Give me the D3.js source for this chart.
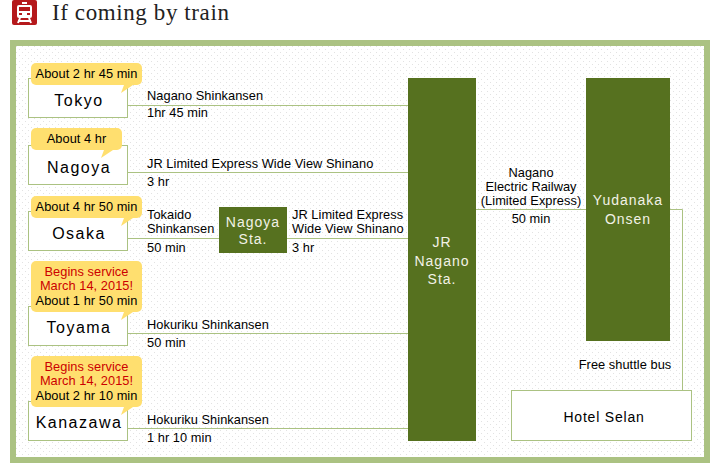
<!DOCTYPE html>
<html>
<head>
<meta charset="utf-8">
<script src="https://cdn.jsdelivr.net/npm/d3@7"></script>
<style>
html, body { margin: 0; padding: 0; background: #fff; }
svg { display: block; }
text { font-family: "Liberation Sans", Arial, sans-serif; }
</style>
</head>
<body>
<svg id="chart" width="720" height="463"></svg>
<script>
const origins = ['Tokyo', 'Nagoya', 'Osaka', 'Toyama', 'Kanazawa'];
const totalTimes = ['About 2 hr 45 min', 'About 4 hr', 'About 4 hr 50 min', 'About 1 hr 50 min', 'About 2 hr 10 min'];
const routes = ['Nagano Shinkansen', 'JR Limited Express Wide View Shinano', null, 'Hokuriku Shinkansen', 'Hokuriku Shinkansen'];
const durations = ['1hr 45 min', '3 hr', null, '50 min', '1 hr 10 min'];
const newService = ['Begins service', 'March 14, 2015!'];
const newServiceOrigins = ['Toyama', 'Kanazawa'];

const GREEN = '#56711f';
const LINE = '#abc282';
const BUBBLE = '#ffdf6f';
const RED = '#cc0000';

const svg = d3.select('#chart');

// row position of each origin, rows are not evenly spaced in the original
const rowY = d3.scaleOrdinal().domain(origins).range([105, 172, 238, 333, 428]);
// the speech bubbles do not sit at quite the same height above each row
const bubbleBottom = d3.scaleOrdinal().domain(origins).range([85, 150, 218, 312, 407]);

const defs = svg.append('defs');
const dots = defs.append('pattern')
    .attr('id', 'dots')
    .attr('width', 6)
    .attr('height', 6)
    .attr('patternUnits', 'userSpaceOnUse');
dots.append('rect').attr('width', 6).attr('height', 6).attr('fill', '#fff');
dots.append('rect').attr('x', 1).attr('y', 1).attr('width', 1).attr('height', 1).attr('fill', '#e2e2e2');
dots.append('rect').attr('x', 4).attr('y', 4).attr('width', 1).attr('height', 1).attr('fill', '#e2e2e2');

function label(g, str, x, y, opts = {}) {
    return g.append('text')
        .attr('x', x)
        .attr('y', y)
        .attr('text-anchor', opts.anchor || 'start')
        .attr('font-size', opts.size || 12.8)
        .attr('letter-spacing', opts.spacing ?? 0.05)
        .attr('fill', opts.fill || '#000')
        .text(str);
}

function drawHeader() {
    const icon = svg.append('g');
    icon.append('rect').attr('x', 12).attr('y', 0).attr('width', 25).attr('height', 25).attr('rx', 2).attr('fill', '#b5191c');
    icon.append('path')
        .attr('fill', '#fff')
        .attr('d', 'M22 2h5v2h-5z M19 5h11a2 2 0 0 1 2 2v9a2 2 0 0 1-2 2h-11a2 2 0 0 1-2-2v-9a2 2 0 0 1 2-2z');
    icon.append('rect').attr('x', 19).attr('y', 7).attr('width', 11).attr('height', 4).attr('fill', '#b5191c');
    icon.append('path')
        .attr('stroke', '#fff')
        .attr('stroke-width', 2)
        .attr('d', 'M20 18l-2 5 M29 18l2 5 M18 21h13');
    icon.append('path').attr('fill', '#b5191c').attr('d', 'M19 13h3v2h-3z M27 13h3v2h-3z');

    svg.append('text')
        .attr('x', 52)
        .attr('y', 20)
        .attr('font-size', 23)
        .attr('letter-spacing', 0.6)
        .attr('fill', '#222')
        .style('font-family', '"Liberation Serif", serif')
        .text('If coming by train');
}

function drawFrame() {
    svg.append('rect')
        .attr('x', 13)
        .attr('y', 43)
        .attr('width', 694)
        .attr('height', 417)
        .attr('fill', 'url(#dots)')
        .attr('stroke', LINE)
        .attr('stroke-width', 6);
}

function drawConnectors() {
    const g = svg.append('g').attr('fill', 'none').attr('stroke', LINE).attr('stroke-width', 1);
    origins.forEach((o) => {
        const y = rowY(o) + 0.5;
        g.append('path').attr('d', d3.line()([[128, y], [408, y]]));
    });
    g.append('path').attr('d', d3.line()([[476, 209.5], [586, 209.5]]));
    g.append('path').attr('d', d3.line()([[670, 209.5], [682.5, 209.5], [682.5, 390]]));
}

function drawOrigins() {
    const g = svg.append('g');
    origins.forEach((o, i) => {
        const y = rowY(o);
        g.append('rect')
            .attr('x', 28.5)
            .attr('y', y - 27 + 0.5)
            .attr('width', 99)
            .attr('height', 39)
            .attr('fill', '#fff')
            .attr('stroke', LINE);
        label(g, o, 79, i > 2 ? y : y + 1, { anchor: 'middle', size: 16, spacing: 1.5 });

        const extra = newServiceOrigins.includes(o);
        const width = i === 1 ? 91 : 111;
        const bottom = bubbleBottom(o);
        const top = bottom - (extra ? 51 : 22);
        g.append('rect')
            .attr('x', 31)
            .attr('y', top)
            .attr('width', width)
            .attr('height', bottom - top)
            .attr('rx', 5)
            .attr('fill', BUBBLE);
        const right = 31 + width;
        g.append('path')
            .attr('fill', BUBBLE)
            .attr('d', `M${right - 18} ${bottom}L${right - 21} ${bottom + 8}L${right - 9} ${bottom}Z`);
        const mid = 31 + width / 2;
        if (extra) {
            newService.forEach((s, k) => {
                label(g, s, mid, top + 15 + k * 14, { anchor: 'middle', fill: RED });
            });
        }
        label(g, totalTimes[i], mid, bottom - 7.5, { anchor: 'middle' });
    });
}

function drawRoutes() {
    const g = svg.append('g');
    origins.forEach((o, i) => {
        if (!routes[i]) return;
        const y = rowY(o);
        // the Tokyo row sits a little tighter around its line
        label(g, routes[i], 147, i === 0 ? y - 5 : y - 4);
        label(g, durations[i], 147, i === 0 ? y + 12 : y + 14);
    });
    const osaka = rowY('Osaka');
    label(g, 'Tokaido', 147, osaka - 19);
    label(g, 'Shinkansen', 147, osaka - 5);
    label(g, '50 min', 147, osaka + 14);
    label(g, 'JR Limited Express', 292, osaka - 19);
    label(g, 'Wide View Shinano', 292, osaka - 5);
    label(g, '3 hr', 292, osaka + 14);

    label(g, 'Nagano', 531, 177, { anchor: 'middle' });
    label(g, 'Electric Railway', 531, 191, { anchor: 'middle' });
    label(g, '(Limited Express)', 531, 205, { anchor: 'middle' });
    label(g, '50 min', 531, 223, { anchor: 'middle' });
    label(g, 'Free shuttle bus', 625, 369, { anchor: 'middle' });
}

function drawStations() {
    const stations = [
        { lines: ['Nagoya', 'Sta.'], x: 219, y: 207, w: 68, h: 46, base: 227, step: 17 },
        { lines: ['JR', 'Nagano', 'Sta.'], x: 408, y: 78, w: 68, h: 363, base: 247, step: 18.5 },
        { lines: ['Yudanaka', 'Onsen'], x: 586, y: 78, w: 84, h: 263, base: 205, step: 19 }
    ];
    const g = svg.append('g');
    stations.forEach((s) => {
        g.append('rect').attr('x', s.x).attr('y', s.y).attr('width', s.w).attr('height', s.h).attr('fill', GREEN);
        s.lines.forEach((t, k) => {
            label(g, t, s.x + s.w / 2, s.base + k * s.step, { anchor: 'middle', size: 14, spacing: 1, fill: '#f2f2e6' });
        });
    });
}

function drawHotel() {
    const g = svg.append('g');
    g.append('rect').attr('x', 511.5).attr('y', 390.5).attr('width', 180).attr('height', 50).attr('fill', '#fff').attr('stroke', LINE);
    label(g, 'Hotel Selan', 604, 422, { anchor: 'middle', size: 14, spacing: 0.8 });
}

drawHeader();
drawFrame();
drawConnectors();
drawRoutes();
drawStations();
drawHotel();
drawOrigins();
</script>
</body>
</html>
